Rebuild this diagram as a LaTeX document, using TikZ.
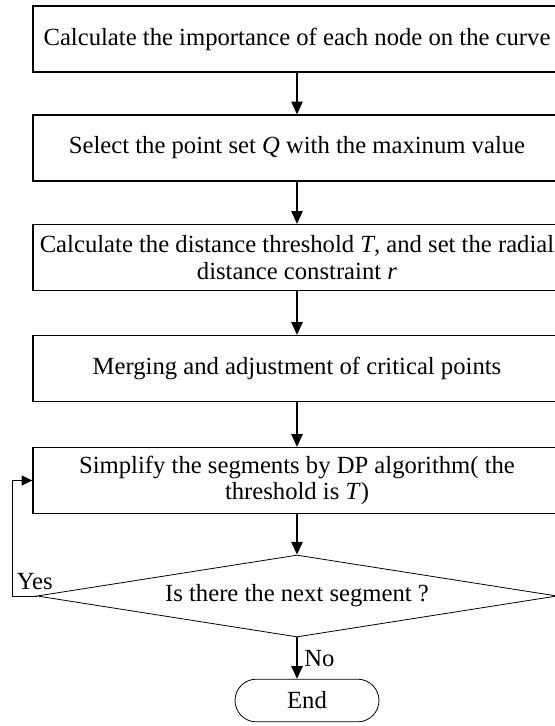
\documentclass[tikz,border=0pt]{standalone}
\usepackage{fontspec}
\setmainfont{Liberation Serif}
\usetikzlibrary{shapes.geometric,shapes.misc,arrows.meta}

\tikzset{
  stepbox/.style={draw,line width=1pt,inner sep=0pt,align=center,
    minimum width=396pt,minimum height=49.5pt},
  decide/.style={draw,diamond,line width=0.6pt,inner sep=0pt,aspect=6.3,
    minimum width=390pt,minimum height=61.5pt},
  stopbox/.style={draw,rounded rectangle,line width=0.6pt,inner sep=0pt,
    minimum width=108pt,minimum height=32pt},
  flow/.style={line width=0.9pt,-{Triangle[length=9.5pt,width=8.5pt]}},
  back/.style={line width=0.6pt,-{Triangle[length=8pt,width=7.5pt]}}
}

\begin{document}
\begin{tikzpicture}[x=0.75pt,y=-0.75pt,font=\fontsize{18.5}{20}\selectfont]
\useasboundingbox (0,0) rectangle (555,726);

\node[stepbox] (imp) at (297,39) {Calculate the importance of each node on the curve};
\node[stepbox] (sel) at (297,148) {Select the point set \textit{Q} with the maxinum value};
\node[stepbox] (thr) at (297,257.5) {Calculate the distance threshold \textit{T}, and set the radial\\distance constraint \textit{r}};
\node[stepbox] (mrg) at (297,368.5) {Merging and adjustment of critical points};
\node[stepbox] (dp) at (297,480.5) {Simplify the segments by DP algorithm( the\\threshold is \textit{T})};
\node[decide] (nxt) at (297,596) {Is there the next segment ?};
\node[stopbox] (end) at (307,700.5) {End};

\draw[flow] (imp) -- (sel);
\draw[flow] (sel) -- (thr);
\draw[flow] (thr) -- (mrg);
\draw[flow] (mrg) -- (dp);
\draw[flow] (dp) -- (nxt);
\draw[flow] (nxt.south) -- (nxt.south |- end.north);

% loop back for the next segment
\draw[back] (nxt.west) -- ++(-24,0) coordinate (yc) |- (dp.west);
\node[anchor=south west,inner sep=0pt] (yes) at ([xshift=4*0.75pt,yshift=6*0.75pt]yc) {Yes};
\node[anchor=west,inner sep=0pt] (no) at ([xshift=7*0.75pt,yshift=-21*0.75pt]nxt.south) {No};
\end{tikzpicture}
\end{document}
